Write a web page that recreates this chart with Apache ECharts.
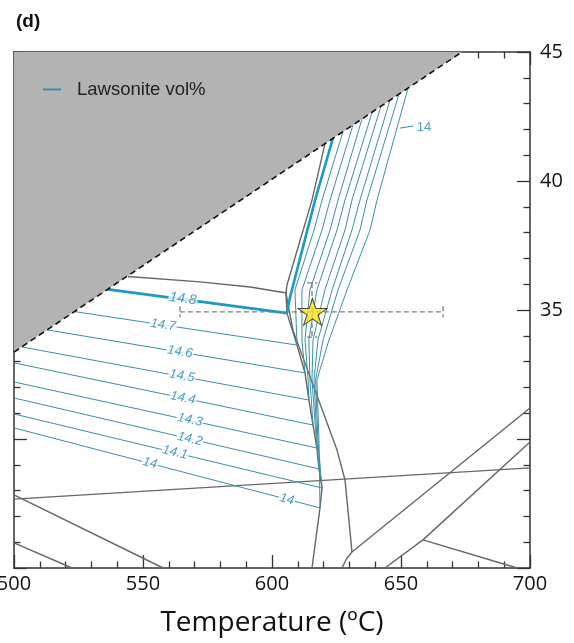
<!DOCTYPE html>
<html>
<head>
<meta charset="utf-8">
<script src="https://cdn.jsdelivr.net/npm/echarts@6/dist/echarts.min.js"></script>
<style>
    html,body{margin:0;padding:0;background:#fff;}
    #main{width:574px;height:643px;}
</style>
</head>
<body>
<div id="main"></div>
<script>
// 轴刻度
var xTicks=[500,550,600,650,700];
var yTicks=[25,30,35,40,45];
var yShown=[35,40,45];

// 灰色区域边界(虚线)
var dashedEdge=[[500,33.37],[673.6,45]];

// 相界线 (T, P)
var lineA=[[544.2,36.30],[572.1,36.09],[591.5,35.89],[605.6,35.66]];
var lineB=[[620.5,41.43],[615.5,39.26],[605.8,35.97],[605.4,35.66],[608.1,34.22],[625.2,29.57],[628.3,28.41],[631.0,25.62]];
var lawEdge=[[605.4,35.66],[605.8,34.88],[609.7,33.64],[612.8,32.56],[614.3,31.51],[615.9,30.54],[617.4,29.65],[618.2,28.84],[619.4,28.10],[618.6,27.33],[615.5,25.0]];
var lineC=[[500,27.67],[700,28.88]];
var lineD=[[500,27.83],[557.8,25.0]];
var lineE=[[500,25.97],[522.5,25.0]];
var lineG=[[627.1,25.0],[629.1,25.39],[631.0,25.62],[700,31.2]];
var lineH=[[643.8,25.0],[658.5,26.09],[700,29.88]];
var lineI=[[658.5,26.09],[695.0,25.0]];

// 硬柱石体积等值线
var c148=[[536.4,35.80],[605.8,34.88],[607.0,35.50],[616.7,39.26],[623.6,41.65]];
var c147=[[523.4,34.94],[609.7,33.64],[608.9,35.78],[616.3,38.10],[619.4,39.26],[627.5,41.91]];
var c146=[[512.8,34.23],[612.8,32.56],[611.6,33.84],[611.6,35.78],[619.4,38.10],[622.5,39.26],[631.4,42.17]];
var c145=[[502.9,33.57],[614.3,31.51],[614.0,32.29],[612.8,33.84],[614.7,35.78],[622.5,38.10],[625.6,39.26],[634.9,42.41]];
var c144=[[500,32.95],[615.9,30.54],[614.7,32.29],[614.3,33.84],[617.4,35.78],[625.2,38.10],[628.3,39.26],[638.8,42.67]];
var c143=[[500,32.21],[617.4,29.65],[615.5,32.29],[615.9,33.84],[620.5,35.78],[628.3,38.10],[631.0,39.26],[642.2,42.89]];
var c142=[[500,31.59],[618.2,28.84],[617.4,29.96],[616.3,32.29],[617.8,33.84],[623.3,35.78],[631.0,38.10],[634.1,39.26],[645.7,43.12]];
var c141=[[500,30.97],[619.4,28.10],[617.8,29.96],[616.9,32.29],[619.8,33.84],[625.6,35.78],[634.1,38.10],[636.8,39.26],[649.2,43.36]];
var c140=[[500,30.43],[618.6,27.33],[618.2,29.96],[617.4,32.29],[622.1,33.84],[629.1,35.78],[638.0,38.10],[640.7,39.26],[652.7,43.59]];
var leader14=[[649.6,42.05],[654.7,42.13]];

// 等值线标注 [T, P, 文本, 角度]
var contourLabels=[
    [565.5,35.43,'14.8',-7],
    [557.8,34.42,'14.7',-8.5],
    [564.3,33.38,'14.6',-9.5],
    [565.1,32.44,'14.5',-10.5],
    [565.5,31.59,'14.4',-11.5],
    [568.2,30.74,'14.3',-12.5],
    [568.2,30.00,'14.2',-13],
    [562.4,29.48,'14.1',-13.5],
    [552.7,29.07,'14',-14.5],
    [605.8,27.66,'14',-14.5]
];
var topLabel=[[658.9,42.09,'14']];

// 样品点 (星) 及误差
var starPt=[[615.7,34.93]];
var errT=[[564.3,34.93],[666.3,34.93]];
var errP=[[615.5,36.05],[615.5,33.95]];
var capT1=[[564.3,35.15],[564.3,34.72]];
var capT2=[[666.3,35.15],[666.3,34.72]];
var capP1=[[613.6,36.05],[617.6,36.05]];
var capP2=[[613.6,33.95],[617.6,33.95]];

var GRAY='#666666';
var TEAL='#3a8fa6';
var TEAL_BOLD='#1a9bc6';
var LABEL_C='#1f86b0';

var myChart=echarts.init(document.getElementById('main'));

var mkLine=function(data,color,width,name,dash){
    return {
        type:'line',
        name:name||'',
        data:data,
        showSymbol:false,
        symbol:'none',
        silent:true,
        animation:false,
        lineStyle:{color:color,width:width,type:dash||'solid'},
        itemStyle:{color:color}
    };
};

var axisCommon=function(){
    return {
        type:'value',
        splitLine:{show:false},
        axisLine:{show:true,onZero:false,lineStyle:{color:'#333',width:1.5}},
        axisTick:{show:true,inside:true,length:13,lineStyle:{color:'#333',width:1.3}},
        minorTick:{show:true,splitNumber:5,length:6.5,lineStyle:{color:'#333',width:1.3}},
        axisLabel:{show:false}
    };
};

var xBottom=axisCommon();
xBottom.min=xTicks[0];xBottom.max=xTicks[xTicks.length-1];xBottom.interval=50;
xBottom.position='bottom';
xBottom.axisLabel={show:true,fontFamily:'Open Sans',fontSize:20,color:'#111',margin:6};
xBottom.name='Temperature (ºC)';
xBottom.nameLocation='middle';
xBottom.nameGap=41;
xBottom.nameTextStyle={fontFamily:'Open Sans',fontSize:28,color:'#111'};

var xTop=axisCommon();
xTop.min=xTicks[0];xTop.max=xTicks[xTicks.length-1];xTop.interval=50;
xTop.position='top';

var yLeft=axisCommon();
yLeft.min=yTicks[0];yLeft.max=yTicks[yTicks.length-1];yLeft.interval=5;
yLeft.position='left';

var yRight=axisCommon();
yRight.min=yTicks[0];yRight.max=yTicks[yTicks.length-1];yRight.interval=5;
yRight.position='right';
yRight.axisLabel={show:true,fontFamily:'Open Sans',fontSize:20,color:'#111',margin:10,
    formatter:function(v){return yShown.indexOf(v)>=0?String(v):'';}};

var series=[];
//相界线
[lineA,lineB,lawEdge,lineC,lineD,lineE,lineG,lineH,lineI].forEach(function(d){
    series.push(mkLine(d,GRAY,1.4));
});
//等值线
series.push(mkLine(c147,TEAL,1,'Lawsonite vol%'));
[c146,c145,c144,c143,c142,c141,c140,leader14].forEach(function(d){
    series.push(mkLine(d,TEAL,1));
});
series.push(mkLine(c148,TEAL_BOLD,2.6));

//灰色区域
var area=mkLine(dashedEdge,'#111',1.6,'',[6,4]);
area.areaStyle={color:'#b3b3b3',opacity:1,origin:'end'};
series.push(area);

//标注
series.push({
    type:'scatter',
    silent:true,
    animation:false,
    symbolSize:0,
    z:4,
    data:contourLabels.map(function(d){
        return {
            value:[d[0],d[1]],
            label:{
                show:true,
                position:'inside',
                formatter:d[2],
                rotate:d[3],
                fontFamily:'Liberation Sans',
                fontStyle:'italic',
                fontSize:d[2]=='14.8'?14:13,
                color:LABEL_C,
                backgroundColor:'#fff',
                padding:[0,1]
            }
        };
    })
});
series.push({
    type:'scatter',
    silent:true,
    animation:false,
    symbolSize:0,
    data:topLabel.map(function(d){
        return {value:[d[0],d[1]],label:{show:true,position:'inside',formatter:d[2],
            fontFamily:'Liberation Sans',fontSize:13,color:LABEL_C}};
    })
});

//误差线
[errT,errP,capT1,capT2,capP1,capP2].forEach(function(d){
    series.push(mkLine(d,'#7d7d7d',1.3,'',[5,3]));
});
//星
series.push({
    type:'scatter',
    silent:true,
    animation:false,
    symbol:'path://M50,0 L61.2,34.5 L97.6,34.5 L68.2,55.9 L79.4,90.5 L50,69.1 L20.6,90.5 L31.8,55.9 L2.4,34.5 L38.8,34.5 Z',
    symbolSize:[29,27],
    itemStyle:{color:'#f8e51a',borderColor:'#222',borderWidth:1},
    data:starPt,
    z:5
});

myChart.setOption({
    animation:false,
    backgroundColor:'#fff',
    title:{
        text:'(d)',
        left:11,
        top:7,
        textStyle:{fontFamily:'Liberation Sans',fontWeight:'bold',fontSize:19,color:'#111'}
    },
    legend:{
        data:['Lawsonite vol%'],
        left:38,
        top:75,
        icon:'rect',
        itemWidth:18,
        itemHeight:2,
        selectedMode:false,
        textStyle:{fontFamily:'Liberation Sans',fontSize:18.5,color:'#222',padding:[0,0,0,11]}
    },
    grid:{left:14,right:44,top:52,bottom:75,containLabel:false,outerBoundsMode:'none'},
    xAxis:[xBottom,xTop],
    yAxis:[yLeft,yRight],
    series:series
});
</script>
</body>
</html>
